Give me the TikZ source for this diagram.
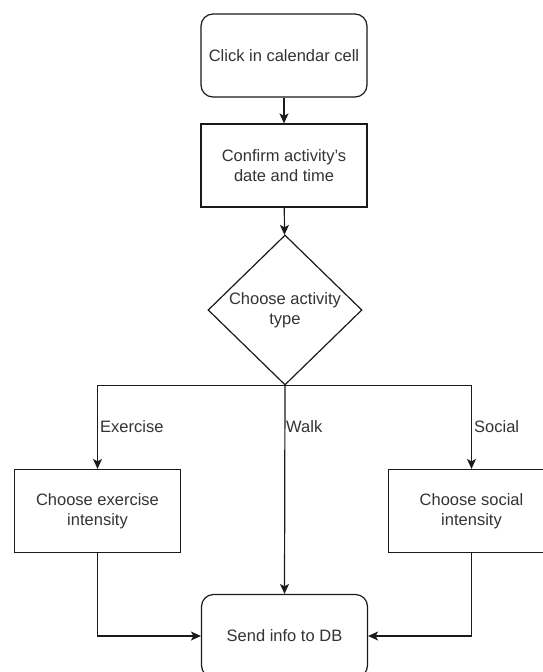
\documentclass[tikz,border=0pt]{standalone}
\usepackage{fontspec}
\setmainfont{Liberation Sans}
\usetikzlibrary{shapes.geometric,arrows.meta}
\definecolor{ink}{HTML}{1A1A1A}
\definecolor{txt}{HTML}{333333}
\tikzset{
  base/.style={draw=ink, line width=1.2pt, text=txt, align=center,
    font=\fontsize{16.5}{20}\selectfont, inner sep=0pt},
  terminal/.style={base, rectangle, rounded corners=12pt,
    minimum width=166pt, minimum height=83pt},
  process/.style={base, rectangle, minimum width=166pt, minimum height=83pt},
  decision/.style={base, diamond, minimum width=154pt, minimum height=150pt},
  flow/.style={draw=ink, line width=1.2pt,
    -{Stealth[length=10pt,width=9pt,inset=2.5pt]}},
  branch/.style={text=txt, font=\fontsize{16.5}{20}\selectfont, anchor=west,
    inner sep=0pt}
}
\begin{document}
\begin{tikzpicture}[x=1pt,y=-1pt]
  \path[use as bounding box, fill=white] (0,0) rectangle (543,672);

  \node[terminal] (click)   at (284,55.5)  {Click in calendar cell};
  \node[process]  (confirm) at (284,165.5) {Confirm activity's\\date and time};
  \node[decision] (choose)  at (285,310)   {Choose activity\\type};
  \node[process]  (exer)    at (97.5,511)  {Choose exercise\\intensity};
  \node[process]  (social)  at (471.5,511) {Choose social\\intensity};
  \node[terminal] (send)    at (284.5,636) {Send info to DB};

  \draw[flow] (click) -- (confirm);
  \draw[flow] (confirm) -- (choose);
  \draw[flow] (choose.south) -| (exer.north);
  \draw[flow] (choose.south) -| (social.north);
  \draw[flow] (choose.south) -- (send.north);
  \draw[flow] (exer.south) |- (send.west);
  \draw[flow] (social.south) |- (send.east);

  \node[branch] (lex)   at (100,427) {Exercise};
  \node[branch] (lwalk) at (286,427) {Walk};
  \node[branch] (lsoc)  at (474,427) {Social};
\end{tikzpicture}
\end{document}
